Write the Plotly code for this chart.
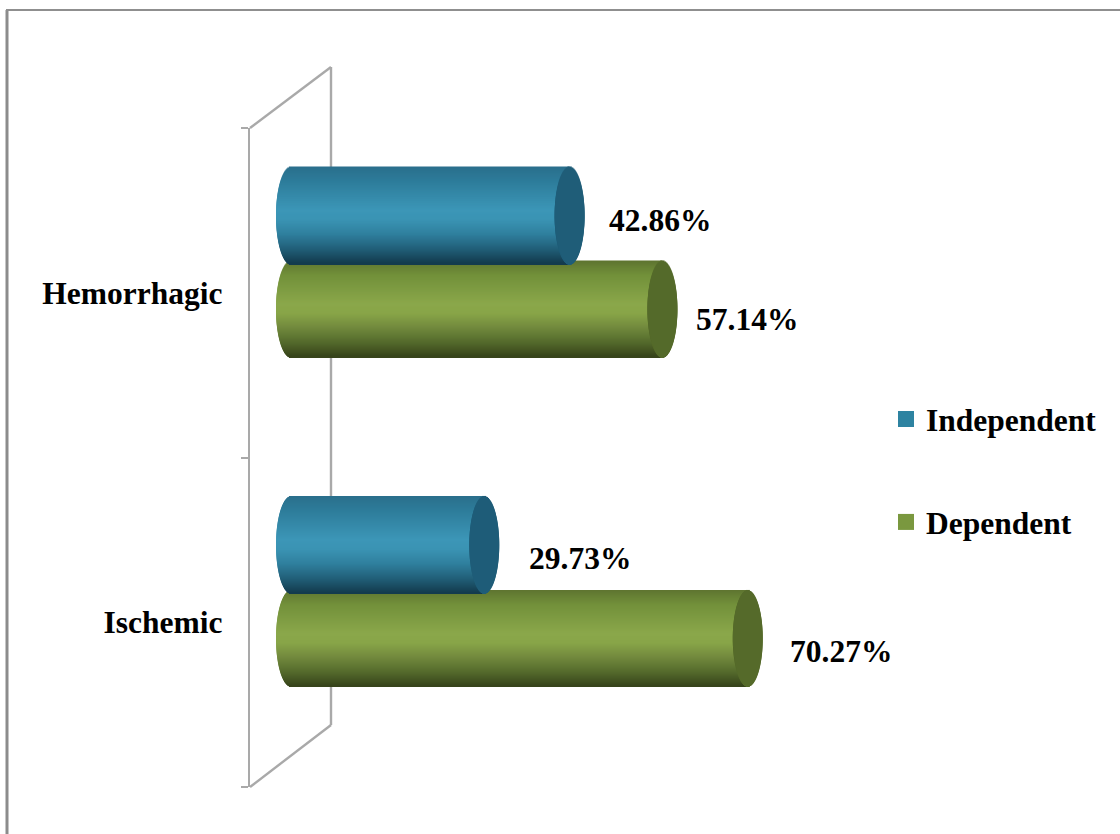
import math
import plotly.graph_objects as go

categories = ["Ischemic", "Hemorrhagic"]
independent = [29.73, 42.86]
dependent = [70.27, 57.14]

W, H = 1120, 834
L, R, T, B = 250, 900, 128, 787
PX_PER_UNIT = 6.5
ZERO_PX = 291
X_RANGE = [(L - ZERO_PX) / PX_PER_UNIT, (R - ZERO_PX) / PX_PER_UNIT]
PX_PER_CAT = (B - T) / 2
END_A = 15 / PX_PER_UNIT
FONT = "Liberation Serif"
GREY = "#a9a9a9"

BLUE_STOPS = [(0, "#2a6f8c"), (.15, "#2d7c9a"), (.45, "#3c96b7"), (.55, "#3a93b3"),
              (.7, "#2f7f9d"), (.85, "#215f78"), (1, "#123a4d")]
GREEN_STOPS = [(0, "#5e7430"), (.15, "#72903a"), (.45, "#8aa74a"), (.55, "#88a548"),
               (.7, "#72893d"), (.85, "#556b2c"), (1, "#36431a")]


def mix(stops, t):
    for (a, ca), (b, cb) in zip(stops, stops[1:]):
        if t <= b:
            f = (t - a) / (b - a)
            rgb = [round(int(ca[i:i + 2], 16) * (1 - f) + int(cb[i:i + 2], 16) * f) for i in (1, 3, 5)]
            return "rgb(%d,%d,%d)" % tuple(rgb)
    return stops[-1][1]


def cylinder_trace(values, top_px, bottom_px, stops, cap_color):
    """Bands of one series; each band is a bar taken from the value."""
    n = int(bottom_px - top_px)
    y, x, base, off, wid, col = [], [], [], [], [], []
    for layer in ("body", "cap"):
        for cat, v in zip(categories, values):
            for i in range(n):
                t = (i + .5) / n
                s = math.sqrt(max(0, 1 - (2 * t - 1) ** 2))
                left = -END_A * s if layer == "body" else v - END_A * s
                right = v if layer == "body" else v + END_A * s
                y.append(cat)
                base.append(left)
                x.append(right - left)
                off.append((-(top_px + i + 1.3)) / PX_PER_CAT)
                wid.append(1.6 / PX_PER_CAT)
                col.append(mix(stops, t) if layer == "body" else cap_color)
    return go.Bar(orientation="h", y=y, x=x, base=base, offset=off, width=wid,
                  marker=dict(color=col, line=dict(width=0)),
                  showlegend=False, hoverinfo="skip")


fig = go.Figure()
# offsets measured upward from the category centre, expressed as px below centre
fig.add_trace(cylinder_trace(dependent, -32, 64, GREEN_STOPS, "#556a2a"))
fig.add_trace(cylinder_trace(independent, -126, -29, BLUE_STOPS, "#1f5d78"))

for name, color in (("Independent", "#2e83a1"), ("Dependent", "#7a983f")):
    fig.add_trace(go.Scatter(x=[None], y=[None], mode="markers", name=name, legendgroup=name,
                             marker=dict(symbol="square", size=16, color=color)))


def px(x):
    return (x - L) / (R - L)


def py(y):
    return (B - y) / (B - T)


shapes = []
wall = [(250, 128), (331, 67), (331, 725), (250, 787)]
for (x0, y0), (x1, y1) in zip(wall, wall[1:]):
    shapes.append(dict(type="line", xref="paper", yref="paper", layer="below",
                       x0=px(x0), y0=py(y0), x1=px(x1), y1=py(y1), line=dict(color=GREY, width=2.4)))
shapes.append(dict(type="line", xref="paper", yref="paper", x0=px(7), y0=py(10), x1=px(7), y1=py(834),
                   line=dict(color="#8c8c8c", width=3)))
shapes.append(dict(type="line", xref="paper", yref="paper", x0=px(6), y0=py(10), x1=px(1120), y1=py(10),
                   line=dict(color="#8f8f8f", width=2)))

label_font = dict(family=FONT, size=31.5, color="black", weight=700)
annotations = []
label_shift = {("Independent", 0): (43, 64), ("Dependent", 0): (40, -29),
               ("Independent", 1): (37, 72), ("Dependent", 1): (32, -27)}
for name, vals in (("Independent", independent), ("Dependent", dependent)):
    for i, v in enumerate(vals):
        dx, dy = label_shift[(name, i)]
        annotations.append(dict(x=v, y=categories[i], xref="x", yref="y", text=f"{v:.2f}%",
                                showarrow=False, xanchor="left", yanchor="middle",
                                xshift=dx, yshift=dy, font=label_font))

fig.update_layout(
    width=W, height=H, autosize=False,
    margin=dict(l=L, r=W - R, t=T, b=H - B, pad=0),
    paper_bgcolor="white", plot_bgcolor="rgba(0,0,0,0)",
    barmode="overlay", shapes=shapes, annotations=annotations,
    font=dict(family=FONT, color="black"),
    legend=dict(x=px(886), y=py(392), xanchor="left", yanchor="top",
                font=label_font, tracegroupgap=59, traceorder="grouped",
                bgcolor="rgba(0,0,0,0)", itemwidth=30),
    xaxis=dict(range=X_RANGE, visible=False, fixedrange=True),
    yaxis=dict(type="category", categoryorder="array", categoryarray=categories,
               range=[-0.5, 1.5], tickson="boundaries", ticks="outside", ticklen=7,
               tickwidth=2, tickcolor=GREY, showline=True, linecolor=GREY, linewidth=2.4,
               showgrid=False, zeroline=False, tickfont=label_font, ticklabelstandoff=19,
               fixedrange=True),
)
fig.write_html("out.html", config=dict(displayModeBar=False),
               post_script="document.body.style.margin='0';document.documentElement.style.overflow='hidden';")
